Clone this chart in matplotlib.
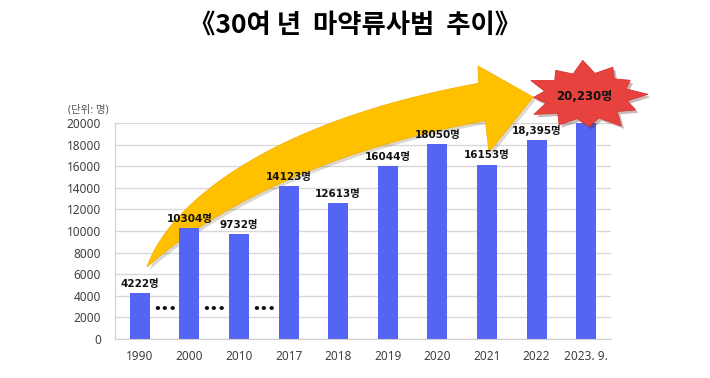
import numpy as np
import matplotlib
matplotlib.use("Agg")
import matplotlib.pyplot as plt
from matplotlib.patches import Polygon
import matplotlib.patheffects as pe

plt.rcParams['font.family'] = ['Noto Sans', 'Noto Sans CJK KR', 'DejaVu Sans']
BOLD = ['DejaVu Sans', 'Noto Sans CJK KR']

# data
years = ["1990", "2000", "2010", "2017", "2018", "2019", "2020", "2021", "2022", "2023. 9."]
offenders = [4222, 10304, 9732, 14123, 12613, 16044, 18050, 16153, 18395, 20230]
value_labels = ["4222명", "10304명", "9732명", "14123명", "12613명", "16044명",
                "18050명", "16153명", "18,395명", "20,230명"]
gap_after = [0, 1, 2]   # "..." between these and the next category
yticks = list(range(0, 20001, 2000))

W, H = 710, 378
fig = plt.figure(figsize=(W / 100, H / 100), dpi=100)
ax = fig.add_axes([115 / W, 1 - 339 / H, 496 / W, 216 / H])


def px(x, y):
    # pixel (top-left origin) -> figure fraction
    return (x / W, 1 - y / H)


x = np.arange(len(years))
ax.bar(x, offenders, width=0.4, color="#5465F6", zorder=2)
ax.set_xlim(-0.5, len(years) - 0.5)
ax.set_ylim(0, 20000)
ax.set_yticks(yticks)
ax.set_xticks(x)
ax.set_xticklabels(years)
ax.yaxis.grid(True, color="#D9D9D9", lw=1, zorder=0)
ax.set_axisbelow(True)
ax.tick_params(length=0, labelsize=8.5, colors="#404040")
ax.tick_params(axis="x", pad=8)
ax.tick_params(axis="y", pad=10)
for s in ["top", "right"]:
    ax.spines[s].set_visible(False)
for s in ["left", "bottom"]:
    ax.spines[s].set_color("#D0D0D0")

# value labels (last one goes into the burst)
for i in range(len(years) - 1):
    ax.annotate(value_labels[i], (x[i], offenders[i]), xytext=(0, 3),
                textcoords="offset points", ha="center", va="bottom",
                fontsize=7.5, fontweight="bold", color="#111111", zorder=4,
                family=BOLD)

for i in gap_after:
    ax.text(x[i] + 0.5, 2700, "•••", ha="center", va="center",
            fontsize=9, fontweight="bold", color="#111111", zorder=4,
            family=["DejaVu Sans"])

# curved yellow arrow (decoration), built in pixel space
P = np.array([[147, 267], [188, 205], [300, 135], [482, 102]], float)
t = np.linspace(0, 1, 80)[:, None]
curve = ((1 - t) ** 3 * P[0] + 3 * (1 - t) ** 2 * t * P[1]
         + 3 * (1 - t) * t ** 2 * P[2] + t ** 3 * P[3])
d = (-3 * (1 - t) ** 2 * P[0] + 3 * ((1 - t) ** 2 - 2 * t * (1 - t)) * P[1]
     + 3 * (2 * t * (1 - t) - t ** 2) * P[2] + 3 * t ** 2 * P[3])
d /= np.linalg.norm(d, axis=1)[:, None]
nrm = np.column_stack([d[:, 1], -d[:, 0]])
w = 38 * (1 - (1 - t[:, 0]) ** 3) / 2
top = curve + nrm * w[:, None]
bot = curve - nrm * w[:, None]
head = np.array([[478, 66], [533, 97], [489, 152]], float)
outline = np.vstack([top, head, bot[::-1]])
arrow = Polygon([px(a, b) for a, b in outline], closed=True,
                transform=fig.transFigure, facecolor="#FFC000",
                edgecolor="#F2B200", lw=0.6, zorder=1.5, clip_on=False)
arrow.set_path_effects([pe.SimplePatchShadow(offset=(2, -2), alpha=0.2),
                        pe.Normal()])
ax.add_patch(arrow)

# red burst for the latest value
cx, cy = 586, 96
n = 12
ang = np.linspace(0, 2 * np.pi, 2 * n, endpoint=False) + 0.05
rout = [1.0, 0.85, 0.95, 1.05, 0.9, 1.0, 0.85, 1.0, 0.95, 0.9, 1.05, 0.9]
rad = []
for k in range(2 * n):
    rad.append(rout[k // 2] if k % 2 == 0 else 0.68)
rad = np.array(rad)
bx = cx + 62 * rad * np.cos(ang)
by = cy - 34 * rad * np.sin(ang)
burst = Polygon([px(a, b) for a, b in zip(bx, by)], closed=True,
                transform=fig.transFigure, facecolor="#E8423F",
                edgecolor="#D83532", lw=0.6, zorder=5, clip_on=False)
burst.set_path_effects([pe.SimplePatchShadow(offset=(2, -2), alpha=0.3),
                        pe.Normal()])
ax.add_patch(burst)
fig.text(*px(cx - 2, cy), value_labels[-1], ha="center", va="center",
         fontsize=8.5, fontweight="bold", color="#111111", zorder=6,
         family=BOLD)

fig.text(*px(88, 110), "(단위: 명)", ha="center", va="center",
         fontsize=7.5, color="#555555")
fig.text(0.5, 1 - 25 / H, "《30여 년  마약류사범  추이》", ha="center", va="center",
         fontsize=19, fontweight="bold", color="#000000",
         family=["Noto Sans CJK KR"])

fig.savefig("out.png", dpi=100)
